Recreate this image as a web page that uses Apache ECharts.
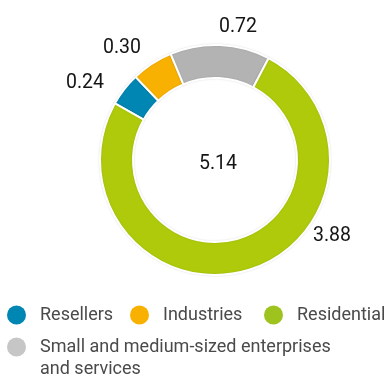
<!DOCTYPE html>
<html>
<head>
<meta charset="utf-8">
<script src="https://cdn.jsdelivr.net/npm/echarts@6/dist/echarts.min.js"></script>
<style>
html,body{margin:0;padding:0;background:#fff;}
#chart{width:386px;height:376px;}
</style>
</head>
<body>
<div id="chart"></div>
<script>
const categories = ['Resellers', 'Industries', 'Small and medium-sized enterprises\nand services', 'Residential'];
const values = [0.24, 0.30, 0.72, 3.88];
const colors = ['#0086b3', '#f8b100', '#b3b3b3', '#afca0b'];
const legendColors = ['#0086b3', '#f8b100', '#c6c6c6', '#9fc31e'];
const total = values.reduce((a, b) => a + b, 0);

const labelSpots = [[85, 83], [122, 48], [238, 27], [332, 236]];

const chart = echarts.init(document.getElementById('chart'));

const legendPlacement = [
  { idx: 0, left: 7, top: 304 },
  { idx: 1, left: 130, top: 304 },
  { idx: 3, left: 264, top: 304 },
  { idx: 2, left: 7, top: 314 }
];

const legends = legendPlacement.map(p => ({
  left: p.left,
  top: p.top,
  padding: 0,
  orient: 'horizontal',
  icon: 'circle',
  itemWidth: 19,
  itemHeight: 19,
  selectedMode: false,
  itemStyle: { borderWidth: 0, shadowBlur: 0 },
  data: [{ name: categories[p.idx], itemStyle: { color: legendColors[p.idx], borderWidth: 0 } }],
  formatter: name => (name.indexOf('\n') >= 0 ? '\n' + name : name),
  textStyle: {
    fontFamily: 'Roboto',
    fontSize: 18,
    color: '#4a4a4a',
    lineHeight: 22,
    padding: [0, 0, 0, 9]
  }
}));

chart.setOption({
  animation: false,
  backgroundColor: '#fff',
  title: {
    text: total.toFixed(2),
    left: 213,
    top: 159,
    textAlign: 'center',
    textVerticalAlign: 'middle',
    textStyle: { fontFamily: 'Roboto', fontSize: 19.5, fontWeight: 'normal', color: '#151515' }
  },
  legend: legends,
  series: [{
    type: 'pie',
    center: [215, 160],
    radius: [82, 115],
    startAngle: 150.5,
    clockwise: true,
    avoidLabelOverlap: false,
    itemStyle: {
      borderColor: '#fff',
      borderWidth: 2,
      shadowBlur: 2,
      shadowColor: 'rgba(0,0,0,0.12)'
    },
    label: {
      show: true,
      position: 'outside',
      formatter: p => p.value.toFixed(2),
      fontFamily: 'Roboto',
      fontSize: 19.5,
      color: '#151515'
    },
    labelLine: { show: false },
    labelLayout: function (params) {
      const s = labelSpots[params.dataIndex];
      return { x: s[0], y: s[1], align: 'center', verticalAlign: 'middle' };
    },
    emphasis: { disabled: true },
    data: categories.map((c, i) => ({ name: c, value: values[i], itemStyle: { color: colors[i] } }))
  }]
});
</script>
</body>
</html>
